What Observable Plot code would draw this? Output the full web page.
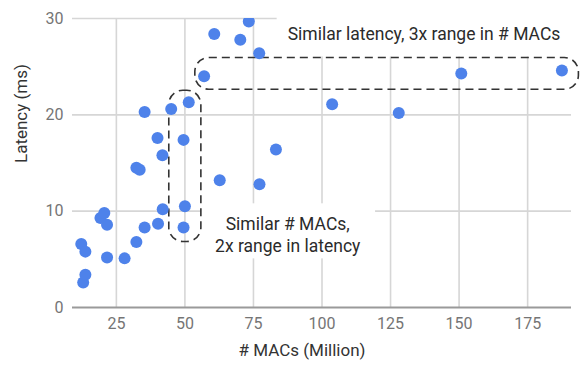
<!DOCTYPE html>
<html>
<head>
<meta charset="utf-8">
<script src="https://cdn.jsdelivr.net/npm/d3@7"></script>
<script src="https://cdn.jsdelivr.net/npm/@observablehq/plot@0.6"></script>
<style>
  html, body { margin: 0; padding: 0; background: white; }
</style>
</head>
<body>
<div id="chart"></div>
<script>
// Data
const macs = [12.2, 13.7, 12.9, 13.7, 19.2, 20.6, 21.6, 21.6, 28.0, 32.3, 35.3, 40.2, 41.9, 50.0, 49.5,
  35.3, 45.0, 51.4, 40.0, 49.5, 41.8, 32.3, 33.5, 62.7, 60.7, 70.2, 73.3, 77.1, 57.0, 83.2, 77.2,
  103.7, 128.0, 150.8, 187.5];
const latency = [6.6, 5.8, 2.6, 3.4, 9.3, 9.8, 8.6, 5.2, 5.1, 6.8, 8.3, 8.7, 10.2, 10.5, 8.3,
  20.3, 20.6, 21.3, 17.6, 17.4, 15.8, 14.5, 14.3, 13.2, 28.4, 27.8, 29.7, 26.4, 24.0, 16.4, 12.8,
  21.1, 20.2, 24.3, 24.6];

const xTicks = [25, 50, 75, 100, 125, 150, 175];
const yTicks = [0, 10, 20, 30];
const xTitle = "# MACs (Million)";
const yTitle = "Latency (ms)";

// Annotations
const noteText = ["Similar latency, 3x range in # MACs", "Similar # MACs,\n2x range in latency"];
const noteX = [137.2, 87.5];
const noteY = [28.45, 7.6];
const boxX1 = [44.3, 53.8];
const boxX2 = [56.0, 193.7];
const boxY1 = [6.8, 22.6];
const boxY2 = [22.5, 25.9];

const points = macs.map((m, i) => ({m, l: latency[i]}));
const notes = noteText.map((t, i) => ({t, x: noteX[i], y: noteY[i]}));
const boxes = boxX1.map((x1, i) => ({x1, x2: boxX2[i], y1: boxY1[i], y2: boxY2[i]}));

const chart = Plot.plot({
  width: 588,
  height: 370,
  marginLeft: 72,
  marginRight: 17,
  marginTop: 18,
  marginBottom: 63,
  style: {fontFamily: "Roboto", background: "white"},
  x: {domain: [9, 191]},
  y: {domain: [0, 30]},
  marks: [
    Plot.gridX(xTicks, {stroke: "#d6d6d6", strokeOpacity: 1, strokeWidth: 1.6}),
    Plot.gridY(yTicks.filter(d => d > 0), {stroke: "#d6d6d6", strokeOpacity: 1, strokeWidth: 1.6}),
    Plot.ruleY([0], {stroke: "#9a9a9a", strokeWidth: 2}),
    Plot.axisX(xTicks, {tickSize: 0, tickPadding: 10, fontSize: 16, color: "#757575", label: null}),
    Plot.axisY(yTicks, {tickSize: 0, tickPadding: 9, fontSize: 16, color: "#757575", label: null}),
    Plot.text([xTitle], {frameAnchor: "bottom", text: d => d, dy: 48, dx: -20, fontSize: 17, fill: "#333"}),
    Plot.text([yTitle], {frameAnchor: "left", text: d => d, rotate: -90, dx: -51, fontSize: 17, fill: "#333"}),
    Plot.text(notes, {x: "x", y: "y", text: "t", fontSize: 17.5, fill: "#2b2b2b", lineHeight: 1.26}),
    Plot.rect(boxes, {x1: "x1", x2: "x2", y1: "y1", y2: "y2", fill: "none", stroke: "#333",
      strokeWidth: 1.6, strokeDasharray: "8,5", rx: 14}),
    Plot.dot(points, {x: "m", y: "l", r: 6, fill: "#4e82ea", clip: true})
  ]
});

document.getElementById("chart").appendChild(chart);

// White label backgrounds computed from the rendered text boxes
const padX = [11, 14], padTop = [12, 11], padBottom = [12, 2];
let k = 0;
chart.querySelectorAll("text").forEach(t => {
  if (!t.textContent.startsWith("Similar")) return;
  const i = k++;
  const bb = t.getBBox();
  const r = document.createElementNS("http://www.w3.org/2000/svg", "rect");
  r.setAttribute("x", bb.x - padX[i]);
  r.setAttribute("y", bb.y - padTop[i]);
  r.setAttribute("width", bb.width + 2 * padX[i]);
  r.setAttribute("height", bb.height + padTop[i] + padBottom[i]);
  r.setAttribute("fill", "white");
  r.setAttribute("stroke", "none");
  if (t.getAttribute("transform")) r.setAttribute("transform", t.getAttribute("transform"));
  t.parentNode.insertBefore(r, t.parentNode.firstChild);
});
</script>
</body>
</html>
